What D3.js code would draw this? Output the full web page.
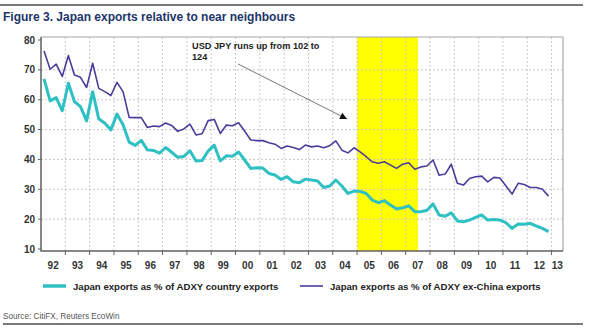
<!DOCTYPE html>
<html lang="en">
<head>
<meta charset="utf-8">
<title>Japan exports relative to near neighbours</title>
<script src="https://cdn.jsdelivr.net/npm/d3@7"></script>
<style>
  body { margin: 0; background: #fff; }
  svg text { font-family: "Liberation Sans", Arial, sans-serif; }
  .grid line { stroke: #c8c8c8; stroke-dasharray: 2,2; }
</style>
</head>
<body>
<script>
// quarterly series, 1992 Q1 to 2012 Q4
var startYear = 1992;
var adxyShare = [
  67.0, 59.6, 60.7, 56.3, 65.5, 59.4, 57.7, 52.9, 62.7, 53.6, 52.1, 49.9,
  55.2, 51.6, 45.8, 44.7, 46.4, 43.2, 43.0, 42.1, 44.0, 42.4, 40.7, 41.0,
  42.9, 39.5, 39.6, 42.8, 44.8, 39.5, 41.2, 41.1, 42.5, 39.8, 37.0, 37.2,
  37.1, 35.3, 34.8, 33.3, 34.2, 32.5, 32.2, 33.4, 33.1, 32.8, 30.6, 31.1,
  33.1, 31.1, 28.6, 29.4, 29.3, 28.6, 26.4, 25.5, 26.2, 24.7, 23.4, 23.8,
  24.5, 22.5, 22.5, 23.0, 25.1, 21.4, 21.0, 22.1, 19.4, 19.1, 19.7, 20.6,
  21.4, 19.7, 19.9, 19.7, 18.8, 16.9, 18.4, 18.3, 18.6, 17.7, 16.9, 15.8
];
var exChinaShare = [
  76.3, 70.2, 71.9, 67.8, 74.8, 68.3, 67.5, 64.1, 72.2, 63.8, 62.7, 61.4,
  65.8, 62.7, 54.1, 54.0, 54.0, 50.7, 51.2, 51.0, 52.2, 51.4, 49.4, 50.2,
  51.8, 48.2, 48.6, 53.0, 53.4, 48.7, 51.5, 51.3, 52.3, 49.5, 46.5, 46.3,
  46.3, 45.6, 45.1, 43.7, 44.5, 44.0, 43.3, 44.8, 44.2, 44.5, 43.9, 44.6,
  46.2, 43.1, 42.2, 43.9, 42.5, 40.9, 39.2, 38.7, 39.2, 38.1, 37.0, 38.4,
  38.9, 36.7, 37.5, 37.8, 39.8, 34.7, 35.1, 38.4, 32.0, 31.4, 33.6, 34.2,
  34.4, 32.5, 34.0, 33.8, 31.1, 28.4, 32.0, 31.6, 30.6, 30.6, 30.0, 27.7
];
var yearTicks = d3.range(1992, 2014);
var valueTicks = [10, 20, 30, 40, 50, 60, 70, 80];
var highlight = [2005.0, 2007.5];   // USD JPY run-up

var W = 590, H = 332;
var pl = 41, pr = 563, pt = 37, pb = 251;   // plot box edges

var svg = d3.select("body").append("svg").attr("width", W).attr("height", H);

var x = d3.scaleLinear().domain([1992, 2013.47]).range([pl, pr]);
var y = d3.scaleLinear().domain([10, 80]).range([249, 40]);

function qTime(i) { return startYear + (i + 0.5) / 4; }

// header / footer rules
svg.append("line").attr("x1", 0).attr("x2", 583).attr("y1", 5).attr("y2", 5)
  .attr("stroke", "#7a7a7a").attr("stroke-width", 2);
svg.append("text").attr("x", 3).attr("y", 21)
  .attr("font-size", 12).attr("font-weight", "bold").attr("fill", "#1d3569")
  .text("Figure 3. Japan exports relative to near neighbours");

// yellow band
svg.append("rect")
  .attr("x", x(highlight[0])).attr("y", pt)
  .attr("width", x(highlight[1]) - x(highlight[0])).attr("height", pb - pt)
  .attr("fill", "#ffff00");

// grid
var grid = svg.append("g").attr("class", "grid");
grid.selectAll(".h").data(valueTicks.filter(function(d) { return d > 10 && d < 80; }))
  .enter().append("line")
  .attr("x1", pl).attr("x2", pr)
  .attr("y1", function(d) { return y(d); }).attr("y2", function(d) { return y(d); });
grid.selectAll(".v").data(yearTicks.slice(1))
  .enter().append("line")
  .attr("y1", pt).attr("y2", pb)
  .attr("x1", function(d) { return x(d); }).attr("x2", function(d) { return x(d); });

// frame
svg.append("path")
  .attr("d", "M" + pl + "," + pt + "H" + pr + "V" + pb)
  .attr("fill", "none").attr("stroke", "#a8a8a8").attr("stroke-width", 1.2);
svg.append("path")
  .attr("d", "M" + pl + "," + pt + "V" + pb + "H" + pr)
  .attr("fill", "none").attr("stroke", "#606060").attr("stroke-width", 1.5);

// y axis ticks + labels
svg.selectAll(".yt").data(valueTicks).enter().append("line")
  .attr("x1", pl - 3).attr("x2", pl)
  .attr("y1", function(d) { return y(d); }).attr("y2", function(d) { return y(d); })
  .attr("stroke", "#606060");
svg.selectAll(".yl").data(valueTicks).enter().append("text")
  .attr("x", 35).attr("y", function(d) { return y(d) + 3.5; })
  .attr("text-anchor", "end").attr("font-size", 10).attr("font-weight", "bold")
  .attr("fill", "#333").text(function(d) { return d; });

// x axis ticks + labels
svg.selectAll(".xt").data(yearTicks.slice(1)).enter().append("line")
  .attr("x1", function(d) { return x(d); }).attr("x2", function(d) { return x(d); })
  .attr("y1", pb).attr("y2", pb + 4)
  .attr("stroke", "#606060");
svg.selectAll(".xl").data(yearTicks).enter().append("text")
  .attr("x", function(d) { return Math.min(x(d + 0.5), (x(d) + pr) / 2); })
  .attr("y", 269)
  .attr("text-anchor", "middle").attr("font-size", 10).attr("font-weight", "bold")
  .attr("fill", "#333").text(function(d) { return String(d).slice(2); });

// series
var line = d3.line()
  .x(function(d, i) { return x(qTime(i)); })
  .y(function(d) { return y(d); });

svg.append("path").datum(adxyShare).attr("d", line)
  .attr("fill", "none").attr("stroke", "#2fc0c4").attr("stroke-width", 3)
  .attr("stroke-linejoin", "round");
svg.append("path").datum(exChinaShare).attr("d", line)
  .attr("fill", "none").attr("stroke", "#4b3c9c").attr("stroke-width", 1.6)
  .attr("stroke-linejoin", "round");

// annotation
svg.append("defs").append("marker")
  .attr("id", "arrow").attr("viewBox", "0 0 10 10")
  .attr("refX", 10).attr("refY", 5)
  .attr("markerWidth", 9).attr("markerHeight", 7)
  .attr("markerUnits", "userSpaceOnUse")
  .attr("orient", "auto")
  .append("path").attr("d", "M0,0L10,5L0,10z").attr("fill", "#111");
svg.append("line")
  .attr("x1", 238).attr("y1", 64).attr("x2", 347).attr("y2", 119)
  .attr("stroke", "#777").attr("stroke-width", 1)
  .attr("marker-end", "url(#arrow)");
var note = svg.append("text").attr("font-size", 9.2).attr("font-weight", "bold").attr("fill", "#222");
note.append("tspan").attr("x", 192).attr("y", 49).text("USD JPY runs up from 102 to");
note.append("tspan").attr("x", 192).attr("y", 60).text("124");

// legend
var legend = [
  { label: "Japan exports as % of ADXY country exports", color: "#2fc0c4", w: 3.5, x: 43 },
  { label: "Japan exports as % of ADXY ex-China exports", color: "#4b3c9c", w: 1.6, x: 300 }
];
var lg = svg.selectAll(".lg").data(legend).enter().append("g");
lg.append("line")
  .attr("x1", function(d) { return d.x; }).attr("x2", function(d) { return d.x + 23; })
  .attr("y1", 286).attr("y2", 286)
  .attr("stroke", function(d) { return d.color; })
  .attr("stroke-width", function(d) { return d.w; });
lg.append("text")
  .attr("x", function(d) { return d.x + 30; }).attr("y", 289.5)
  .attr("font-size", 9.6).attr("font-weight", "bold").attr("fill", "#222")
  .text(function(d) { return d.label; });

// source
svg.append("text").attr("x", 3).attr("y", 319)
  .attr("font-size", 8.2).attr("fill", "#555")
  .text("Source: CitiFX, Reuters EcoWin");
svg.append("line").attr("x1", 3).attr("x2", 583).attr("y1", 324).attr("y2", 324)
  .attr("stroke", "#7a7a7a").attr("stroke-width", 2);
</script>
</body>
</html>
